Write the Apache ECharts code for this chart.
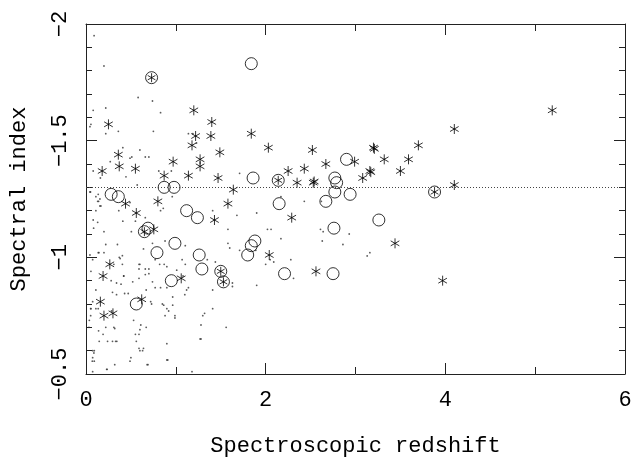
<!DOCTYPE html>
<html>
<head>
<meta charset="utf-8">
<script src="https://cdn.jsdelivr.net/npm/echarts@6/dist/echarts.min.js"></script>
<style>html,body{margin:0;padding:0;background:#fff}#c{width:640px;height:462px}</style>
</head>
<body>
<div id="c"></div>
<script>
// ---- data (redshift, spectral index) ----
const xTicks = [0, 2, 4, 6];
const yTicks = [-2, -1.5, -1, -0.5];
const refIndex = -1.3;

const starPoints = [
  [0.25,-1.57],[0.36,-1.44],[0.37,-1.39],[0.18,-1.37],[0.55,-1.38],[1.20,-1.63],[1.40,-1.58],
  [1.22,-1.52],[1.18,-1.48],[1.39,-1.52],[1.27,-1.42],[1.27,-1.39],[1.49,-1.45],[0.97,-1.41],
  [0.87,-1.35],[1.14,-1.35],[1.47,-1.34],[1.64,-1.29],[1.84,-1.53],[2.03,-1.47],[2.52,-1.46],
  [2.25,-1.37],[2.43,-1.38],[2.35,-1.32],[2.53,-1.32],[2.54,-1.325],[0.80,-1.24],[0.44,-1.23],
  [0.56,-1.19],[1.58,-1.23],[1.43,-1.16],[2.29,-1.17],[2.67,-1.40],[2.99,-1.41],[3.08,-1.34],
  [3.16,-1.37],[3.17,-1.365],[3.20,-1.47],[3.21,-1.465],[3.32,-1.42],[3.50,-1.37],[3.59,-1.42],
  [3.70,-1.48],[4.10,-1.55],[4.10,-1.31],[5.19,-1.63],[0.755,-1.12],[0.265,-0.97],[0.19,-0.92],
  [0.16,-0.81],[0.20,-0.75],[0.30,-0.76],[0.62,-0.82],[1.06,-0.91],[2.04,-1.01],[2.56,-0.94],
  [3.44,-1.06],[3.97,-0.90]
];

const circlePoints = [
  [1.84,-1.83],[1.86,-1.34],[0.28,-1.27],[0.36,-1.26],[0.87,-1.30],[0.98,-1.30],[1.12,-1.20],
  [1.24,-1.17],[2.15,-1.23],[2.90,-1.42],[2.77,-1.34],[2.79,-1.32],[2.77,-1.28],[2.94,-1.27],
  [2.67,-1.24],[3.26,-1.16],[2.76,-1.125],[2.75,-0.93],[0.99,-1.06],[0.79,-1.02],[1.26,-1.01],
  [1.29,-0.95],[0.95,-0.90],[0.56,-0.80],[1.80,-1.01],[1.84,-1.05],[1.88,-1.07],[2.21,-0.93],
  [0.69,-1.125]
];

const circledStarPoints = [
  [0.73,-1.77],[2.14,-1.33],[3.88,-1.28],[0.65,-1.11],[1.50,-0.94],[1.53,-0.895]
];

const dotPoints = [
  [0.09,-1.95],[0.20,-1.82],[0.58,-1.685],[0.74,-1.67],[0.83,-1.62],[0.08,-1.63],[0.22,-1.64],
  [0.055,-1.57],[0.044,-1.56],[0.22,-1.53],[0.36,-1.54],[0.75,-1.54],[1.14,-1.53],[1.19,-1.53],
  [0.60,-1.46],[0.66,-1.43],[0.70,-1.43],[0.51,-1.43],[0.49,-1.425],[0.41,-1.47],[0.27,-1.41],
  [0.08,-1.37],[0.16,-1.34],[0.445,-1.345],[0.57,-1.31],[0.81,-1.37],[0.95,-1.37],[1.71,-1.36],
  [1.68,-1.18],[1.41,-1.20],[0.05,-1.28],[0.11,-1.26],[0.14,-1.24],[0.155,-1.22],[0.11,-1.20],
  [0.365,-1.20],[0.86,-1.21],[0.044,-1.28],[0.136,-1.27],[0.155,-1.25],[0.13,-1.24],[0.166,-1.22],
  [0.49,-1.235],[0.83,-1.20],[0.96,-1.26],[0.08,-1.16],[0.13,-1.15],[0.20,-1.11],[0.085,-1.125],
  [0.505,-1.11],[0.41,-1.155],[0.66,-1.17],[0.55,-1.155],[0.22,-1.055],[0.35,-1.055],[0.64,-1.036],
  [0.74,-1.06],[0.88,-1.07],[1.105,-1.05],[0.044,-1.01],[0.136,-1.02],[0.37,-1.0],[0.405,-1.007],
  [0.074,-0.99],[0.405,-0.97],[0.59,-0.97],[0.59,-0.95],[0.77,-0.99],[0.82,-0.97],[0.87,-0.97],
  [0.66,-0.95],[0.70,-0.95],[0.42,-0.92],[0.66,-0.926],[0.70,-0.93],[0.59,-0.91],[1.105,-0.97],
  [1.07,-0.99],[0.28,-0.90],[0.34,-0.89],[0.39,-0.885],[0.52,-0.895],[0.74,-0.895],[0.77,-0.87],
  [0.83,-0.87],[0.90,-0.87],[1.12,-0.86],[0.11,-0.86],[0.295,-0.85],[0.34,-0.84],[0.43,-0.845],
  [0.47,-0.845],[0.67,-0.86],[0.074,-0.81],[0.037,-0.73],[0.055,-0.78],[0.11,-0.78],[0.136,-0.78],
  [0.284,-0.77],[0.31,-0.70],[0.32,-0.695],[0.22,-0.70],[0.14,-0.685],[0.147,-0.64],[0.24,-0.64],
  [0.295,-0.64],[0.343,-0.64],[0.092,-0.60],[0.074,-0.60],[0.074,-0.57],[0.092,-0.555],[0.074,-0.51],
  [0.23,-0.52],[0.32,-0.54],[0.50,-0.57],[0.49,-0.555],[0.59,-0.61],[0.64,-0.61],[0.55,-0.67],
  [0.59,-0.67],[0.56,-0.64],[0.61,-0.71],[0.60,-0.69],[0.67,-0.70],[0.53,-0.73],[0.68,-0.54],
  [0.90,-0.56],[0.88,-0.75],[0.92,-0.77],[0.90,-0.78],[0.72,-0.81],[0.73,-0.80],[0.85,-0.80],
  [0.865,-0.795],[0.965,-0.83],[0.965,-0.795],[0.99,-0.74],[0.055,-0.94],
  [1.41,-0.86],[1.41,-0.78],[1.32,-0.76],[1.28,-0.71],[1.56,-0.70],[1.27,-0.65],[1.90,-0.88],
  [1.63,-0.89],[1.63,-0.875],[2.0,-0.97],[2.09,-0.98],[2.05,-0.99],[2.28,-0.99],[2.31,-0.91],
  [1.44,-0.98],[1.35,-0.99],
  [1.90,-1.19],[1.58,-1.12],[2.02,-1.12],[2.06,-1.12],[2.17,-1.08],[1.58,-1.06],[1.60,-1.04],
  [1.71,-1.03],[1.89,-1.03],[2.17,-1.26],[2.43,-1.24],[1.23,-1.49],
  [2.61,-1.12],[2.64,-1.11],[2.63,-1.07],[2.86,-1.055],[2.93,-1.10],[3.16,-1.02],[3.13,-1.006],
  [2.62,-1.24],
  [0.90,-0.63],[0.91,-0.56],[1.18,-0.51],[1.30,-0.75],[1.28,-0.65],[0.69,-0.54],[0.235,-0.52],
  [0.07,-0.555],[0.088,-0.59],[0.60,-0.60],[0.63,-0.60],[0.33,-0.64],[0.19,-0.67],[0.033,-0.70],
  [0.052,-0.75],[0.052,-0.78],[1.01,-0.945],[0.90,-0.96],[1.08,-0.92],[1.14,-0.87],[1.10,-0.84],
  [0.99,-0.75],[0.38,-0.995],[0.31,-0.97],[0.20,-1.02],[0.144,-1.02],[0.42,-0.92],[0.60,-0.97]
];

// ---- chart ----
const FONT = 'Liberation Mono';
const AXIS_COLOR = '#222';
const STAR = 'path://M0,-5L0,5M-4.33,-2.5L4.33,2.5M-4.33,2.5L4.33,-2.5';
const fmt = v => (v < 0 ? '\u2212' : '') + Math.abs(v);

function makeX(pos, withLabels) {
  const a = {
    type: 'value', position: pos, min: xTicks[0], max: xTicks[xTicks.length - 1], interval: 2,
    axisLine: { show: true, onZero: false, lineStyle: { color: AXIS_COLOR, width: 1 } },
    axisTick: { show: true, inside: true, length: 11, lineStyle: { color: AXIS_COLOR, width: 1 } },
    minorTick: { show: true, splitNumber: 2, length: 7, lineStyle: { color: AXIS_COLOR, width: 1 } },
    splitLine: { show: false }, minorSplitLine: { show: false },
    axisLabel: { show: withLabels, margin: 15, fontFamily: FONT, fontSize: 22, color: '#000', formatter: fmt }
  };
  if (withLabels) {
    a.name = 'Spectroscopic redshift';
    a.nameLocation = 'middle';
    a.nameGap = 61;
    a.nameTextStyle = { fontFamily: FONT, fontSize: 22, color: '#000' };
  }
  return a;
}
function makeY(pos, withLabels) {
  const a = {
    type: 'value', position: pos, min: yTicks[0], max: yTicks[yTicks.length - 1], interval: 0.5, inverse: true,
    axisLine: { show: true, onZero: false, lineStyle: { color: AXIS_COLOR, width: 1 } },
    axisTick: { show: true, inside: true, length: 11, lineStyle: { color: AXIS_COLOR, width: 1 } },
    minorTick: { show: true, splitNumber: 5, length: 6, lineStyle: { color: AXIS_COLOR, width: 1 } },
    splitLine: { show: false }, minorSplitLine: { show: false },
    axisLabel: { show: withLabels, rotate: 90, margin: 15, fontFamily: FONT, fontSize: 22, color: '#000', formatter: fmt }
  };
  if (withLabels) {
    a.name = 'Spectral index';
    a.nameLocation = 'middle';
    a.nameGap = 56;
    a.nameRotate = 90;
    a.nameTextStyle = { fontFamily: FONT, fontSize: 22, color: '#000' };
  }
  return a;
}

const chart = echarts.init(document.getElementById('c'), null, { renderer: 'canvas' });
chart.setOption({
  animation: false,
  backgroundColor: '#fff',
  grid: { left: 82, right: 15, top: 24, bottom: 86, containLabel: false },
  xAxis: [makeX('bottom', true), makeX('top', false)],
  yAxis: [makeY('left', true), makeY('right', false)],
  series: [
    { type: 'scatter', name: 'dots', data: dotPoints, symbol: 'circle', symbolSize: 1.8,
      itemStyle: { color: '#333' }, z: 1,
      markLine: { silent: true, symbol: 'none', label: { show: false },
        lineStyle: { color: '#444', width: 1, type: [1, 2] },
        data: [{ yAxis: refIndex }] } },
    { type: 'scatter', name: 'stars', data: starPoints, symbol: STAR, symbolSize: 10, symbolKeepAspect: true,
      itemStyle: { color: '#000', borderColor: '#000', borderWidth: 1 }, z: 3 },
    { type: 'scatter', name: 'circles', data: circlePoints, symbol: 'circle', symbolSize: 12,
      itemStyle: { color: 'rgba(0,0,0,0)', borderColor: '#000', borderWidth: 1 }, z: 3 },
    { type: 'scatter', name: 'circledRing', data: circledStarPoints, symbol: 'circle', symbolSize: 12,
      itemStyle: { color: 'rgba(0,0,0,0)', borderColor: '#000', borderWidth: 1 }, z: 3 },
    { type: 'scatter', name: 'circledStar', data: circledStarPoints, symbol: STAR, symbolSize: 9, symbolKeepAspect: true,
      itemStyle: { color: '#000', borderColor: '#000', borderWidth: 1 }, z: 3 }
  ]
});
</script>
</body>
</html>
